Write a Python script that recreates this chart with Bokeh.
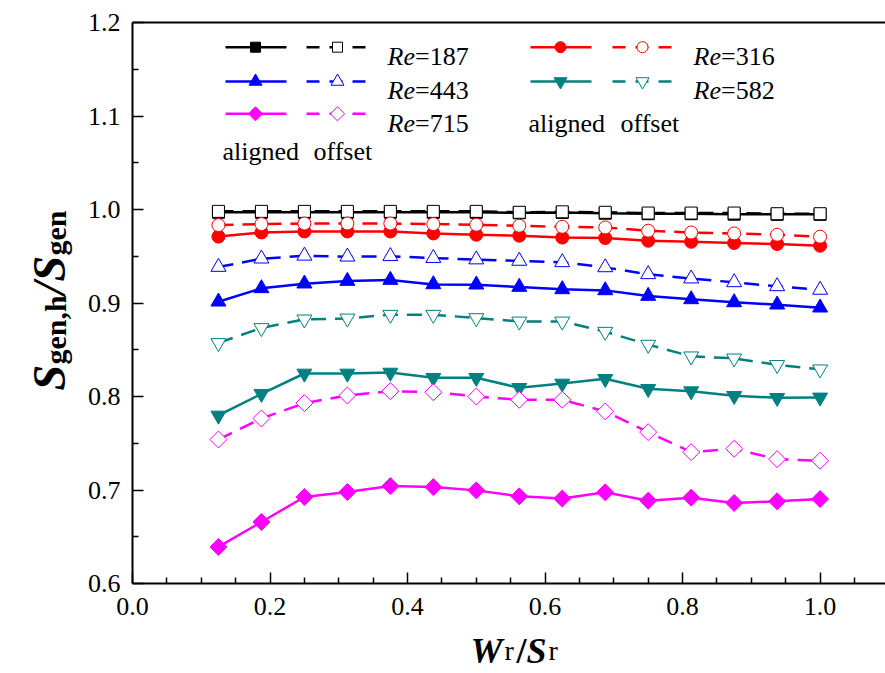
from math import pi
from bokeh.plotting import figure
from bokeh.models import (Range1d, LinearAxis, FixedTicker, PrintfTickFormatter, Label)
from bokeh.embed import file_html
from bokeh.resources import INLINE

# ---------------- data ----------------
wr_sr = [0.125, 0.1875, 0.25, 0.3125, 0.375, 0.4375, 0.5, 0.5625,
         0.625, 0.6875, 0.75, 0.8125, 0.875, 0.9375, 1.0]

aligned_187 = [0.997, 0.997, 0.997, 0.997, 0.997, 0.997, 0.997, 0.9965,
               0.9968, 0.996, 0.9955, 0.9955, 0.995, 0.9948, 0.9948]
offset_187 = [0.998, 0.998, 0.998, 0.998, 0.998, 0.998, 0.998, 0.997,
              0.9975, 0.997, 0.9962, 0.9962, 0.9962, 0.9955, 0.9955]

aligned_316 = [0.971, 0.9755, 0.9765, 0.9765, 0.9765, 0.9744, 0.973, 0.972,
               0.970, 0.9695, 0.9666, 0.9655, 0.9642, 0.9631, 0.9613]
offset_316 = [0.9833, 0.9844, 0.985, 0.985, 0.985, 0.9844, 0.9837, 0.9826,
              0.9815, 0.9808, 0.9773, 0.9754, 0.9744, 0.973, 0.9709]

aligned_443 = [0.9014, 0.9157, 0.9207, 0.9235, 0.9246, 0.9199, 0.9196, 0.9171,
               0.9146, 0.9135, 0.9075, 0.9039, 0.9007, 0.8982, 0.895]
offset_443 = [0.9385, 0.9474, 0.9505, 0.9495, 0.95, 0.948, 0.9465, 0.945,
              0.9435, 0.9381, 0.9307, 0.9261, 0.9221, 0.9178, 0.914]

aligned_582 = [0.7797, 0.8029, 0.8246, 0.8246, 0.8256, 0.820, 0.820, 0.8093,
               0.8139, 0.8189, 0.8082, 0.8057, 0.8007, 0.7986, 0.799]
offset_582 = [0.8573, 0.8733, 0.8825, 0.8835, 0.8875, 0.8875, 0.8839, 0.8803,
              0.8803, 0.8693, 0.8555, 0.843, 0.8408, 0.8338, 0.8291]

aligned_715 = [0.6391, 0.6658, 0.6925, 0.6978, 0.7042, 0.7031, 0.6996, 0.6932,
               0.6908, 0.6975, 0.6886, 0.6918, 0.6861, 0.6879, 0.6903]
offset_715 = [0.754, 0.7765, 0.7929, 0.8011, 0.8057, 0.8046, 0.800, 0.7965,
              0.7965, 0.784, 0.7619, 0.7405, 0.7441, 0.733, 0.7313]

x_ticks = [0.0, 0.2, 0.4, 0.6, 0.8, 1.0]
x_minor = [0.05, 0.1, 0.15, 0.25, 0.3, 0.35, 0.45, 0.5, 0.55, 0.65, 0.7, 0.75,
           0.85, 0.9, 0.95, 1.05]
y_ticks = [0.6, 0.7, 0.8, 0.9, 1.0, 1.1, 1.2]
y_minor = [0.65, 0.75, 0.85, 0.95, 1.05, 1.15]

re_labels = ["187", "316", "443", "582", "715"]
colors = ["#000000", "#FF0000", "#0000FF", "#008080", "#FF00FF"]
markers = ["square", "circle", "triangle", "inverted_triangle", "square"]
msizes = [12, 13, 15, 15, 12]
mangles = [0, 0, 0, 0, pi / 4]
aligned = [aligned_187, aligned_316, aligned_443, aligned_582, aligned_715]
offset = [offset_187, offset_316, offset_443, offset_582, offset_715]

# ---------------- layout (frame = whole canvas, axes at fixed locations) ----------------
W, H = 885, 673
L, T = 132, 22           # pixel position of x=0 and y=1.2
SX, SY = 687.6, 935.0    # pixels per data unit
XMIN, YMIN, YMAX = 0.0, 0.6, 1.2


def X(px):
    return XMIN + (px - L) / SX


def Y(py):
    return YMAX - (py - T) / SY


FONT = "Liberation Serif"

p = figure(width=W, height=H, frame_width=W, frame_height=H, title=None,
           x_range=Range1d(X(0), X(W)), y_range=Range1d(Y(H), Y(0)),
           output_backend="svg", toolbar_location=None, x_axis_type=None, y_axis_type=None,
           min_border=0, min_border_left=0, min_border_right=0, min_border_top=0,
           min_border_bottom=0)
p.outline_line_color = None
p.background_fill_color = "white"
p.border_fill_color = "white"

common = dict(axis_line_width=2, axis_line_color="black",
              major_tick_out=0, minor_tick_out=0, major_tick_in=11, minor_tick_in=6,
              major_tick_line_width=1.5, minor_tick_line_width=1.5,
              major_tick_line_color="black", minor_tick_line_color="black",
              major_label_text_font=FONT, major_label_text_font_size="26px",
              major_label_text_color="black",
              formatter=PrintfTickFormatter(format="%.1f"))

xa = LinearAxis(ticker=FixedTicker(ticks=x_ticks, minor_ticks=x_minor),
                fixed_location=YMIN, bounds=(XMIN, X(W)),
                major_label_standoff=14, **common)
p.add_layout(xa, "below")
ya = LinearAxis(ticker=FixedTicker(ticks=y_ticks, minor_ticks=y_minor),
                fixed_location=XMIN, bounds=(YMIN, YMAX),
                major_label_standoff=12, **common)
p.add_layout(ya, "left")
ta = LinearAxis(ticker=FixedTicker(ticks=[]), fixed_location=YMAX, bounds=(XMIN, X(W)),
                axis_line_width=2, axis_line_color="black",
                major_tick_in=0, major_tick_out=0, minor_tick_in=0, minor_tick_out=0,
                major_label_text_font_size="1px")
p.add_layout(ta, "above")

# ---------------- series ----------------
for c, al, of, mk, ms, ma in zip(colors, aligned, offset, markers, msizes, mangles):
    p.line(wr_sr, al, line_color=c, line_width=2.5)
    p.scatter(wr_sr, al, marker=mk, size=ms, angle=ma, fill_color=c, line_color=c)
    p.line(wr_sr, of, line_color=c, line_width=2.5, line_dash="15 9")
    p.scatter(wr_sr, of, marker=mk, size=ms, angle=ma, fill_color="white",
              line_color=c, line_width=1)


def lab(text, px, py, size="26px", style="normal", angle=0, align="left",
        baseline="alphabetic"):
    p.add_layout(Label(x=X(px), y=Y(py), text=text, text_font=FONT, text_font_size=size,
                       text_font_style=style, text_color="black", angle=angle,
                       text_align=align, text_baseline=baseline))


# ---------------- legend ----------------
cols = [(225, 255, 306, 337, 387), (530, 560, 612, 642, 693)]
rows = [46.7, 81.0, 113.3]
slots = [(0, 0), (1, 0), (0, 1), (1, 1), (0, 2)]
for i, (ci, ri) in enumerate(slots):
    s0, sm, d0, dm, tx = cols[ci]
    ry = rows[ri]
    c = colors[i]
    p.line([X(s0), X(s0 + 61)], [Y(ry), Y(ry)], line_color=c, line_width=2.5)
    p.scatter([X(sm)], [Y(ry)], marker=markers[i], size=msizes[i] - 2, angle=mangles[i],
              fill_color=c, line_color=c)
    p.line([X(d0), X(d0 + 61)], [Y(ry), Y(ry)], line_color=c, line_width=2.5,
           line_dash="13 10")
    p.scatter([X(dm)], [Y(ry)], marker=markers[i], size=msizes[i] - 2, angle=mangles[i],
              fill_color="white", line_color=c, line_width=1)
    lab("Re", tx, ry + 9.3, style="italic")
    lab("=" + re_labels[i], tx + 27.5, ry + 9.3)

lab("aligned", 222, 150.7)
lab("offset", 313, 150.7)
lab("aligned", 528, 122.6)
lab("offset", 620, 122.6)

# ---------------- axis titles ----------------
# x title: W_r / S_r
xb = 650
lab("W", 470, xb, size="36px", style="bold italic")
lab("r", 504, xb, size="28px")
lab("/", 516, xb, size="36px", style="bold")
lab("S", 526, xb, size="36px", style="bold italic")
lab("r", 548, xb, size="28px")

# y title: S_gen,h / S_gen (rotated, reading bottom to top)
ybx, ysx = 49, 55
y = 390
lab("S", ybx, y, size="46px", style="bold italic", angle=pi / 2)
y -= 26
lab("gen,h", ysx, y, size="30px", style="bold", angle=pi / 2)
y -= 70
lab("/", ybx, y, size="46px", style="bold italic", angle=pi / 2)
y -= 13
lab("S", ybx, y, size="46px", style="bold italic", angle=pi / 2)
y -= 26
lab("gen", ysx, y, size="30px", style="bold", angle=pi / 2)

open("out.html", "w").write(file_html(p, INLINE))
